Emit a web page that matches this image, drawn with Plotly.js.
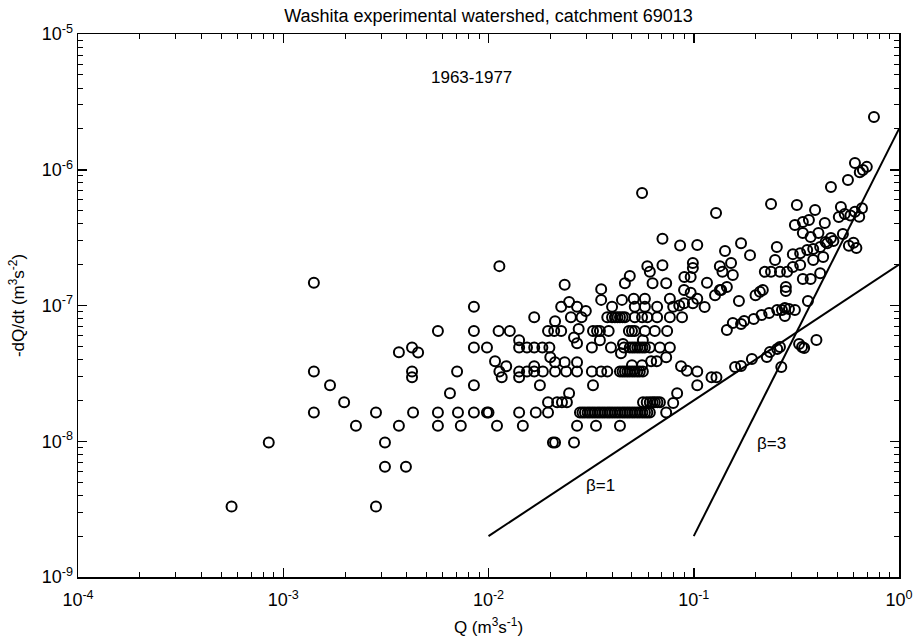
<!DOCTYPE html>
<html>
<head>
<meta charset="utf-8">
<script src="https://cdn.plot.ly/plotly-3.0.1.min.js"></script>
<style>html,body{margin:0;padding:0;background:#fff;}#chart{width:915px;height:643px;}</style>
</head>
<body>
<div id="chart"></div>
<script>
// Recession data: Q (m3/s) and -dQ/dt (m3/s2)
const Q = [
 5.6e-4, 8.5e-4, 1.41e-3, 1.41e-3, 1.41e-3, 1.69e-3, 1.98e-3, 2.26e-3, 2.83e-3, 2.83e-3,
 3.13e-3, 3.13e-3, 3.96e-3, 3.66e-3, 4.29e-3, 3.66e-3, 4.24e-3, 4.54e-3, 4.24e-3, 4.24e-3,
 5.67e-3, 5.67e-3, 5.67e-3, 6.49e-3, 7.03e-3, 7.1e-3, 7.33e-3, 8.49e-3, 8.49e-3, 8.49e-3,
 8.49e-3, 8.49e-3, 9.83e-3, 1.0e-2, 9.83e-3, 1.10e-2, 1.12e-2, 1.13e-2, 1.27e-2, 1.41e-2,
 1.41e-2, 1.41e-2, 1.41e-2, 1.41e-2, 1.47e-2, 1.54e-2, 1.54e-2, 1.67e-2, 1.67e-2, 1.67e-2,
 1.67e-2, 1.076e-2, 1.22e-2, 1.13e-2, 1.16e-2, 1.78e-2, 1.70e-2, 1.95e-2, 1.95e-2, 2.06e-2,
 2.11e-2, 2.61e-2, 2.16e-2, 2.28e-2, 2.41e-2, 2.70e-2, 3.34e-2, 4.37e-2,
 2.79e-2, 2.87e-2, 2.95e-2, 3.04e-2, 3.12e-2, 3.21e-2, 3.30e-2, 3.40e-2, 3.49e-2, 3.59e-2,
 3.69e-2, 3.80e-2, 3.90e-2, 4.01e-2, 4.13e-2, 4.25e-2, 4.37e-2, 4.50e-2, 4.62e-2, 4.75e-2,
 4.88e-2, 5.02e-2, 5.16e-2, 5.31e-2, 5.46e-2, 5.62e-2, 5.78e-2, 5.94e-2, 6.11e-2,
 5.66e-2, 5.90e-2, 6.11e-2, 6.30e-2, 6.46e-2, 6.65e-2, 6.84e-2,
 7.34e-2, 7.94e-2, 8.30e-2, 2.47e-2, 3.23e-2,
 1.84e-2, 2.11e-2, 2.39e-2, 2.70e-2, 3.19e-2, 3.54e-2, 3.79e-2, 4.37e-2, 4.50e-2, 4.62e-2,
 4.75e-2, 4.88e-2, 5.02e-2, 5.16e-2, 5.31e-2, 5.46e-2, 5.65e-2,
 2.35e-2, 2.70e-2, 5.0e-2, 5.6e-2, 8.67e-2, 9.26e-2, 2.0e-2, 2.11e-2, 6.2e-2, 6.6e-2, 7.34e-2,
 1.83e-2, 1.98e-2, 3.19e-2, 3.95e-2, 4.57e-2, 4.88e-2, 5.02e-2, 5.16e-2, 5.31e-2, 5.46e-2,
 5.62e-2, 5.78e-2, 6.11e-2, 6.84e-2, 7.65e-2,
 2.70e-2, 3.49e-2, 4.52e-2, 5.65e-2, 4.42e-2,
 1.95e-2, 2.09e-2, 2.26e-2, 3.23e-2, 3.38e-2, 3.49e-2, 3.85e-2, 4.83e-2, 5.0e-2, 5.16e-2,
 5.78e-2, 6.46e-2, 7.42e-2,
 2.75e-2, 2.61e-2, 2.11e-2,
 2.52e-2, 2.84e-2, 3.79e-2, 4.0e-2, 4.13e-2, 4.25e-2, 4.37e-2, 4.5e-2, 4.62e-2, 5.16e-2,
 5.6e-2, 5.94e-2, 6.63e-2, 7.65e-2, 8.77e-2,
 2.26e-2, 2.70e-2, 4.0e-2, 5.16e-2, 5.78e-2, 6.63e-2, 7.94e-2,
 2.47e-2, 2.98e-2, 4.47e-2, 5.1e-2, 5.78e-2, 7.65e-2, 8.5e-2,
 3.54e-2, 3.54e-2, 2.35e-2,
 4.88e-2, 4.62e-2, 6.3e-2, 7.34e-2,
 5.94e-2, 7.04e-2, 6.11e-2, 7.04e-2, 8.58e-2,
 5.6e-2, 1.284e-1, 2.38e-1, 3.18e-1, 4.66e-1, 5.64e-1, 3.9e-1,
 1.04e-1, 1.70e-1, 2.54e-1, 1.42e-1,
 3.11e-1, 3.40e-1, 3.64e-1, 4.35e-1, 5.21e-1, 5.09e-1, 5.44e-1,
 3.40e-1, 3.71e-1, 4.05e-1, 4.39e-1, 4.66e-1, 5.33e-1,
 7.55e-1, 6.1e-1, 6.67e-1, 6.97e-1, 6.44e-1,
 1.88e-1, 3.04e-1, 3.30e-1, 3.57e-1, 3.82e-1, 4.13e-1, 4.47e-1, 4.79e-1, 4.27e-1, 3.82e-1,
 9.9e-2, 9.9e-2, 1.34e-1, 1.52e-1, 1.38e-1, 1.55e-1, 2.22e-1, 2.38e-1, 2.63e-1, 2.85e-1,
 3.04e-1, 3.30e-1, 2.49e-1, 9.0e-2, 9.66e-2, 4.13e-1, 3.71e-1, 3.40e-1, 1.16e-1, 1.45e-1,
 1.34e-1, 2.81e-1, 2.81e-1, 2.10e-1, 2.17e-1, 2.00e-1, 1.66e-1, 8.97e-2, 9.66e-2, 1.04e-1,
 8.97e-2, 9.9e-2, 1.13e-1, 1.27e-1, 1.36e-1, 3.6e-1,
 1.45e-1, 1.55e-1, 1.70e-1, 1.76e-1, 1.96e-1, 2.14e-1, 2.33e-1, 2.55e-1, 2.69e-1, 2.78e-1,
 2.91e-1, 3.11e-1, 2.78e-1,
 3.26e-1, 3.37e-1, 3.45e-1, 3.96e-1, 2.35e-1, 2.55e-1, 2.63e-1, 2.27e-1, 1.92e-1, 1.70e-1,
 1.59e-1, 2.67e-1, 1.04e-1, 1.04e-1, 1.22e-1, 1.29e-1,
 0.57, 0.60, 0.62, 0.58, 0.61, 0.64, 0.66
];
const dQdt = [
 3.3e-9, 9.8e-9, 1.47e-7, 3.27e-8, 1.63e-8, 2.59e-8, 1.94e-8, 1.3e-8, 1.63e-8, 3.3e-9,
 9.8e-9, 6.5e-9, 6.5e-9, 1.3e-8, 1.63e-8, 4.52e-8, 4.9e-8, 4.5e-8, 3.27e-8, 2.96e-8,
 6.5e-8, 1.63e-8, 1.3e-8, 2.26e-8, 3.27e-8, 1.63e-8, 1.3e-8, 9.8e-8, 6.5e-8, 4.9e-8,
 2.59e-8, 1.63e-8, 1.63e-8, 1.63e-8, 4.9e-8, 1.3e-8, 6.5e-8, 1.95e-7, 6.5e-8, 5.55e-8,
 4.9e-8, 3.27e-8, 2.96e-8, 1.63e-8, 1.3e-8, 4.9e-8, 3.27e-8, 4.9e-8, 8.2e-8, 3.57e-8,
 3.27e-8, 3.88e-8, 3.57e-8, 3.27e-8, 2.96e-8, 2.59e-8, 1.63e-8, 1.63e-8, 1.94e-8, 9.8e-9,
 9.8e-9, 9.8e-9, 1.94e-8, 1.94e-8, 1.94e-8, 1.3e-8, 1.3e-8, 1.3e-8,
 1.63e-8, 1.63e-8, 1.63e-8, 1.63e-8, 1.63e-8, 1.63e-8, 1.63e-8, 1.63e-8, 1.63e-8, 1.63e-8,
 1.63e-8, 1.63e-8, 1.63e-8, 1.63e-8, 1.63e-8, 1.63e-8, 1.63e-8, 1.63e-8, 1.63e-8, 1.63e-8,
 1.63e-8, 1.63e-8, 1.63e-8, 1.63e-8, 1.63e-8, 1.63e-8, 1.63e-8, 1.63e-8, 1.63e-8,
 1.94e-8, 1.94e-8, 1.94e-8, 1.94e-8, 1.94e-8, 1.94e-8, 1.94e-8,
 1.63e-8, 1.91e-8, 2.26e-8, 2.26e-8, 2.59e-8,
 3.27e-8, 3.27e-8, 3.27e-8, 3.27e-8, 3.27e-8, 3.27e-8, 3.27e-8, 3.27e-8, 3.27e-8, 3.27e-8,
 3.27e-8, 3.27e-8, 3.27e-8, 3.27e-8, 3.27e-8, 3.27e-8, 3.27e-8,
 3.82e-8, 3.82e-8, 3.63e-8, 3.63e-8, 3.57e-8, 3.3e-8, 4.16e-8, 3.82e-8, 3.88e-8, 3.88e-8, 4.16e-8,
 4.9e-8, 4.9e-8, 4.9e-8, 4.9e-8, 4.9e-8, 4.9e-8, 4.9e-8, 4.9e-8, 4.9e-8, 4.9e-8,
 4.9e-8, 4.9e-8, 4.9e-8, 4.9e-8, 4.9e-8,
 5.27e-8, 5.55e-8, 5.2e-8, 5.55e-8, 4.45e-8,
 6.5e-8, 6.5e-8, 6.5e-8, 6.5e-8, 6.5e-8, 6.5e-8, 6.5e-8, 6.5e-8, 6.5e-8, 6.5e-8,
 6.5e-8, 6.5e-8, 6.5e-8,
 6.7e-8, 5.8e-8, 7.66e-8,
 8.2e-8, 8.2e-8, 8.2e-8, 8.2e-8, 8.2e-8, 8.2e-8, 8.2e-8, 8.2e-8, 8.2e-8, 8.2e-8,
 8.2e-8, 8.2e-8, 8.2e-8, 8.2e-8, 8.2e-8,
 9.8e-8, 9.8e-8, 9.8e-8, 9.8e-8, 9.8e-8, 9.8e-8, 9.8e-8,
 1.06e-7, 9.1e-8, 1.1e-7, 1.12e-7, 1.12e-7, 1.12e-7, 1.0e-7,
 1.32e-7, 1.1e-7, 1.42e-7,
 1.65e-7, 1.46e-7, 1.46e-7, 1.46e-7,
 1.95e-7, 1.98e-7, 1.77e-7, 3.1e-7, 2.77e-7,
 6.75e-7, 4.8e-7, 5.6e-7, 5.5e-7, 7.47e-7, 8.41e-7, 5.06e-7,
 2.79e-7, 2.88e-7, 2.7e-7, 2.52e-7,
 3.92e-7, 4.12e-7, 4.26e-7, 4.06e-7, 5.32e-7, 4.49e-7, 4.72e-7,
 3.42e-7, 3.2e-7, 3.42e-7, 2.94e-7, 3.14e-7, 3.36e-7,
 2.45e-6, 1.12e-6, 9.96e-7, 1.05e-6, 9.6e-7,
 2.35e-7, 2.39e-7, 2.43e-7, 2.56e-7, 2.61e-7, 2.7e-7, 2.88e-7, 2.99e-7, 2.28e-7, 2.16e-7,
 2.06e-7, 1.89e-7, 1.95e-7, 2.06e-7, 1.77e-7, 1.68e-7, 1.77e-7, 1.77e-7, 1.77e-7, 1.77e-7,
 1.92e-7, 1.99e-7, 2.16e-7, 1.62e-7, 1.62e-7, 1.73e-7, 1.57e-7, 1.57e-7, 1.47e-7, 1.37e-7,
 1.30e-7, 1.37e-7, 1.28e-7, 1.26e-7, 1.30e-7, 1.19e-7, 1.08e-7, 1.30e-7, 1.24e-7, 1.12e-7,
 1.04e-7, 1.04e-7, 9.75e-8, 1.19e-7, 1.30e-7, 1.08e-7,
 6.6e-8, 7.43e-8, 7.31e-8, 7.69e-8, 7.96e-8, 8.51e-8, 8.8e-8, 9.27e-8, 9.27e-8, 9.59e-8,
 9.43e-8, 9.27e-8, 8.37e-8,
 5.2e-8, 4.94e-8, 4.86e-8, 5.58e-8, 4.54e-8, 4.78e-8, 4.94e-8, 4.17e-8, 4.04e-8, 3.58e-8,
 3.52e-8, 3.52e-8, 3.27e-8, 2.59e-8, 2.96e-8, 2.96e-8,
 2.75e-7, 2.9e-7, 2.65e-7, 4.6e-7, 4.9e-7, 4.5e-7, 5.2e-7
];
// Reference lines (recession exponent beta)
const beta1Q = [0.01, 1];
const beta1Y = [2e-9, 2e-7];
const beta3Q = [0.1, 1];
const beta3Y = [2e-9, 2e-6];
// Tick labels
const xTickVals = [1e-4, 1e-3, 1e-2, 1e-1, 1];
const xTickText = ['10<sup>-4</sup>', '10<sup>-3</sup>', '10<sup>-2</sup>', '10<sup>-1</sup>', '10<sup>0</sup>'];
const yTickVals = [1e-9, 1e-8, 1e-7, 1e-6, 1e-5];
const yTickText = ['10<sup>-9</sup>', '10<sup>-8</sup>', '10<sup>-7</sup>', '10<sup>-6</sup>', '10<sup>-5</sup>'];

function minorTicks(lo, hi) {
  const out = [];
  for (let e = lo; e < hi; e++) for (let m = 2; m <= 9; m++) out.push(m * Math.pow(10, e));
  return out;
}

const FONT = 'Liberation Sans, Arial, sans-serif';
const traces = [
  {x: Q, y: dQdt, type: 'scatter', mode: 'markers',
   marker: {symbol: 'circle-open', size: 10, color: '#000', line: {width: 2, color: '#000'}},
   cliponaxis: true, hoverinfo: 'x+y'},
  {x: beta1Q, y: beta1Y, type: 'scatter', mode: 'lines', line: {color: '#000', width: 2}},
  {x: beta3Q, y: beta3Y, type: 'scatter', mode: 'lines', line: {color: '#000', width: 2}}
];

const axisCommon = {
  type: 'log', showline: true, linecolor: '#000', linewidth: 1.5, mirror: 'allticks',
  ticks: 'inside', ticklen: 9, tickwidth: 1.5, tickcolor: '#000', showgrid: false, zeroline: false,
  tickmode: 'array', tickfont: {family: FONT, size: 18, color: '#000'}
};

const layout = {
  width: 915, height: 643,
  margin: {l: 78, r: 16, t: 34, b: 66},
  paper_bgcolor: '#fff', plot_bgcolor: '#fff',
  showlegend: false,
  font: {family: FONT, color: '#000'},
  title: {text: 'Washita experimental watershed, catchment 69013', font: {family: FONT, size: 18, color: '#000'},
          x: 0.5, xref: 'paper', xanchor: 'center', y: 0.976, yref: 'container', yanchor: 'middle'},
  xaxis: Object.assign({}, axisCommon, {
    range: [-4, 0], tickvals: xTickVals, ticktext: xTickText, ticklabelstandoff: 6,
    minor: {tickmode: 'array', tickvals: minorTicks(-4, 0), ticks: 'inside', ticklen: 5, tickwidth: 1, tickcolor: '#000', showgrid: false},
    title: {text: 'Q (m<sup>3</sup>s<sup>-1</sup>)', font: {family: FONT, size: 17, color: '#000'}, standoff: 12}
  }),
  yaxis: Object.assign({}, axisCommon, {
    range: [-9, -5], tickvals: yTickVals, ticktext: yTickText,
    minor: {tickmode: 'array', tickvals: minorTicks(-9, -5), ticks: 'inside', ticklen: 5, tickwidth: 1, tickcolor: '#000', showgrid: false},
    title: {text: '-dQ/dt (m<sup>3</sup>s<sup>-2</sup>)', font: {family: FONT, size: 17, color: '#000'}, standoff: 12}
  }),
  annotations: [
    {text: '1963-1977', x: Math.log10(8.3e-3), y: Math.log10(4.82e-6), xref: 'x', yref: 'y', showarrow: false,
     font: {family: FONT, size: 17, color: '#000'}},
    {text: 'β=1', x: Math.log10(0.0353), y: Math.log10(4.7e-9), xref: 'x', yref: 'y', showarrow: false,
     font: {family: FONT, size: 17, color: '#000'}},
    {text: 'β=3', x: Math.log10(0.240), y: Math.log10(9.7e-9), xref: 'x', yref: 'y', showarrow: false,
     font: {family: FONT, size: 17, color: '#000'}}
  ]
};

Plotly.newPlot('chart', traces, layout, {displayModeBar: false, staticPlot: true});
</script>
</body>
</html>
